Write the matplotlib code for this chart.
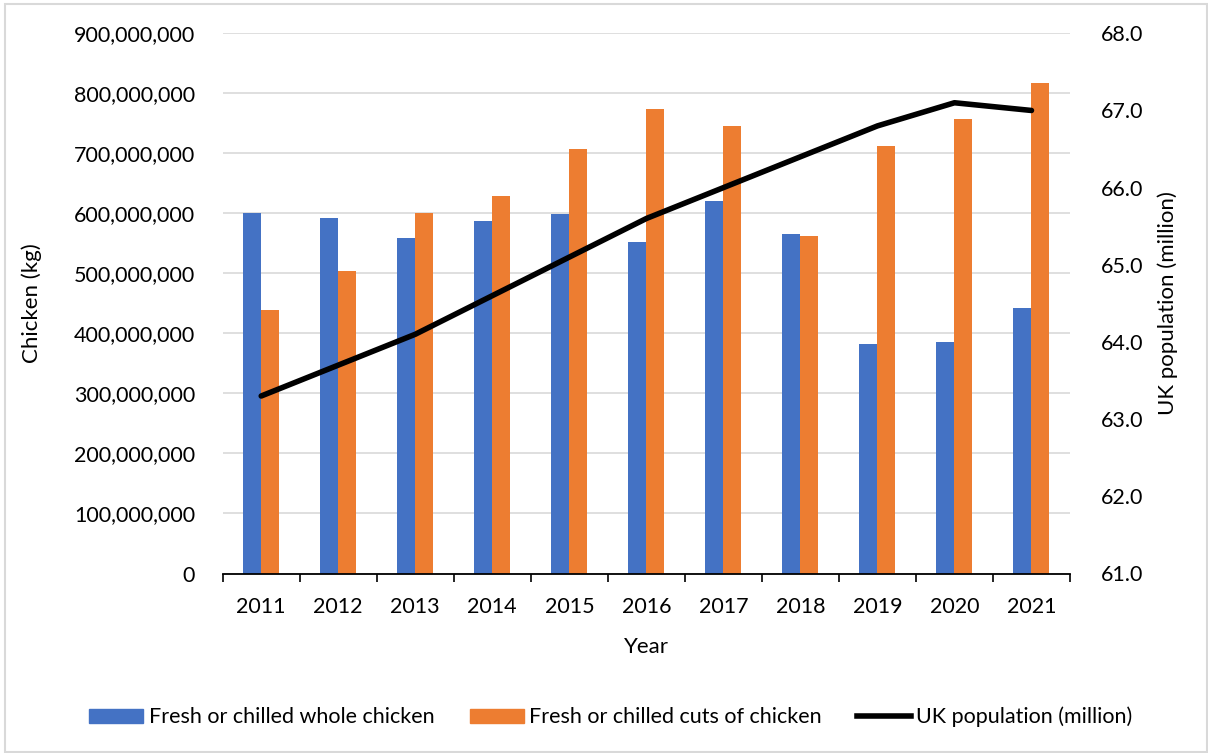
import matplotlib
matplotlib.use("Agg")
import matplotlib.pyplot as plt
import numpy as np
from matplotlib.ticker import FuncFormatter, MultipleLocator
from matplotlib.patches import Rectangle
from matplotlib.lines import Line2D
from matplotlib.patches import Patch

plt.rcParams['font.family'] = ['Lato', 'DejaVu Sans']

years = ['2011', '2012', '2013', '2014', '2015', '2016', '2017', '2018', '2019', '2020', '2021']
whole_chicken = [601e6, 593e6, 559e6, 587e6, 599e6, 553e6, 621e6, 566e6, 382e6, 386e6, 443e6]
cuts_chicken = [439e6, 504e6, 601e6, 629e6, 708e6, 774e6, 745e6, 563e6, 712e6, 757e6, 817e6]
uk_population = [63.3, 63.7, 64.1, 64.6, 65.1, 65.6, 66.0, 66.4, 66.8, 67.1, 67.0]

W, H = 1208, 753
fig = plt.figure(figsize=(W / 100, H / 100), dpi=100)
ax = fig.add_axes([222.7 / W, 1 - 573.5 / H, (1070 - 222.7) / W, (573.5 - 33.3) / H])

FS = 15.5
x = np.arange(len(years))
bw = 18 / 77.0
blue = '#4472C4'
orange = '#ED7D31'
ax.bar(x - bw / 2, whole_chicken, width=bw, color=blue, zorder=2)
ax.bar(x + bw / 2, cuts_chicken, width=bw, color=orange, zorder=2)

ax.set_xlim(-0.5, len(years) - 0.5)
ax.set_ylim(0, 900e6)
ax.yaxis.set_major_locator(MultipleLocator(100e6))
ax.yaxis.set_major_formatter(FuncFormatter(lambda v, p: f"{int(round(v)):,}"))
ax.grid(axis='y', color='#d9d9d9', linewidth=1.2, zorder=0)
ax.set_axisbelow(True)

ax.set_xticks(x)
ax.set_xticklabels(years)
ax.set_xticks(np.arange(-0.5, len(years) + 0.5, 1), minor=True)
ax.tick_params(axis='x', which='major', length=0, pad=17, labelsize=FS)
ax.tick_params(axis='x', which='minor', length=6, width=1.2, color='black', direction='out')
ax.tick_params(axis='y', length=0, pad=20, labelsize=FS, colors='black')
for s in ['top', 'left', 'right']:
    ax.spines[s].set_visible(False)
ax.spines['bottom'].set_color('black')
ax.spines['bottom'].set_linewidth(1.3)
ax.spines['bottom'].set_zorder(4)

ax.set_ylabel('Chicken (kg)', fontsize=16, labelpad=23)
ax.set_xlabel('Year', fontsize=16, labelpad=14)

ax2 = ax.twinx()
ax2.plot(x, uk_population, color='black', linewidth=4, solid_capstyle='round', zorder=3)
ax2.set_ylim(61.0, 68.0)
ax2.yaxis.set_major_locator(MultipleLocator(1.0))
ax2.yaxis.set_major_formatter(FuncFormatter(lambda v, p: f"{v:.1f}"))
ax2.tick_params(axis='y', length=0, pad=22, labelsize=FS)
for s in ['top', 'left', 'right', 'bottom']:
    ax2.spines[s].set_visible(False)
ax2.set_ylabel('UK population (million)', fontsize=16, labelpad=10)

handles = [Patch(color=blue, label='Fresh or chilled whole chicken'),
           Patch(color=orange, label='Fresh or chilled cuts of chicken'),
           Line2D([0], [0], color='black', linewidth=4, label='UK population (million)')]
fig.legend(handles=handles, loc='center', bbox_to_anchor=(611 / W, 1 - 717 / H), ncol=3,
           frameon=False, fontsize=FS, handlelength=2.5, handleheight=0.6,
           handletextpad=0.25, columnspacing=1.65)

fig.patches.append(Rectangle((5 / W, 1 - 752 / H), (1207 - 5) / W, (752 - 4) / H,
                             transform=fig.transFigure, fill=False,
                             edgecolor='#d9d9d9', linewidth=1.5))

fig.savefig('out.png', dpi=100)
